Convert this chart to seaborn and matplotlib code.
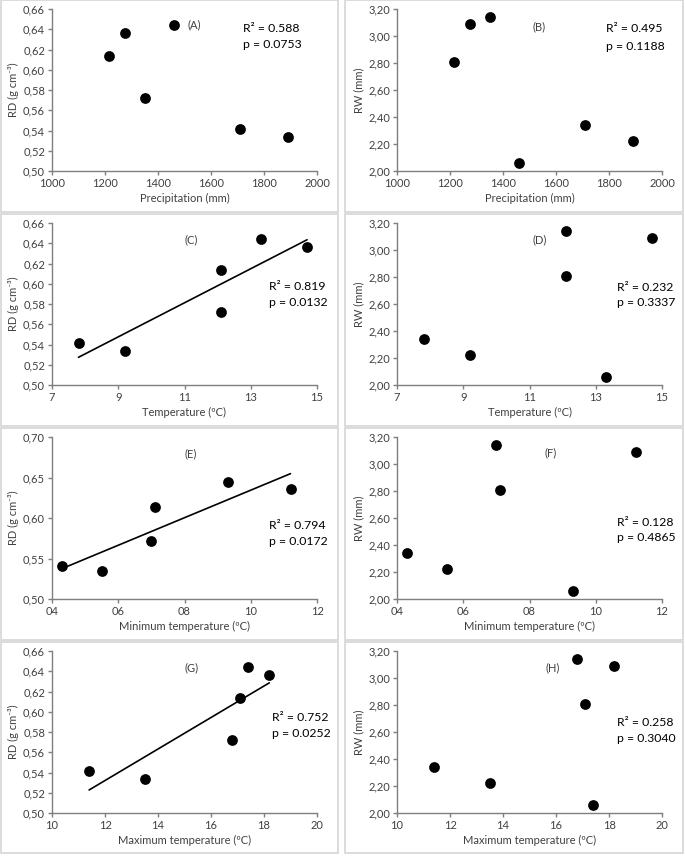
import matplotlib
matplotlib.use("Agg")
from matplotlib import pyplot as plt
from matplotlib.patches import Rectangle
from matplotlib.ticker import FuncFormatter
import seaborn as sns
import numpy as np
import pandas as pd

sns.set_style('white')
plt.rcParams['font.family'] = ['Lato', 'DejaVu Sans']

# six sites
precipitation = [1215, 1275, 1350, 1460, 1710, 1890]
temperature = [12.1, 14.7, 12.1, 13.3, 7.8, 9.2]
min_temperature = [7.1, 11.2, 7.0, 9.3, 4.3, 5.5]
max_temperature = [17.1, 18.2, 16.8, 17.4, 11.4, 13.5]
rd = [0.614, 0.636, 0.572, 0.644, 0.541, 0.534]
rw = [2.81, 3.09, 3.14, 2.06, 2.34, 2.22]

df = pd.DataFrame({'prec': precipitation, 'temp': temperature,
                   'tmin': min_temperature, 'tmax': max_temperature,
                   'rd': rd, 'rw': rw})

W, H = 685, 856
fig = plt.figure(figsize=(W / 100, H / 100), dpi=100)

# panel frames
col_box = [(1, 338), (345, 683)]
row_box = [(0, 212), (214, 426), (428, 640), (642, 853)]
for x0, x1 in col_box:
    for y0, y1 in row_box:
        fig.add_artist(Rectangle((x0 / W, 1 - y1 / H), (x1 - x0) / W, (y1 - y0) / H,
                                 transform=fig.transFigure, fill=False,
                                 edgecolor='#d9d9d9', linewidth=1.3))

col_x = [52, 397]
row_top = [9, 223, 437, 651]
aw, ah = 265, 162

rd_label = 'RD (g cm\u207b\u00b3)'
rw_label = 'RW (mm)'

panels = [
    # x col, y col, xlabel, ylabel, xlim, xstep, ylim, ystep, tag, fit, tag pos, stat pos, r2, p, xfmt, yfmt
    ('prec', 'rd', 'Precipitation (mm)', rd_label, (1000, 2000), 200, (0.50, 0.66), 0.02,
     '(A)', False, (0.51, 0.90), (0.72, 0.88, 0.78), '0.588', '0.0753', '{:.0f}', '{:.2f}'),
    ('prec', 'rw', 'Precipitation (mm)', rw_label, (1000, 2000), 200, (2.0, 3.2), 0.2,
     '(B)', False, (0.51, 0.89), (0.79, 0.88, 0.77), '0.495', '0.1188', '{:.0f}', '{:.2f}'),
    ('temp', 'rd', 'Temperature (ºC)', rd_label, (7, 15), 2, (0.50, 0.66), 0.02,
     '(C)', True, (0.50, 0.895), (0.82, 0.61, 0.51), '0.819', '0.0132', '{:.0f}', '{:.2f}'),
    ('temp', 'rw', 'Temperature (ºC)', rw_label, (7, 15), 2, (2.0, 3.2), 0.2,
     '(D)', False, (0.51, 0.895), (0.83, 0.60, 0.51), '0.232', '0.3337', '{:.0f}', '{:.2f}'),
    ('tmin', 'rd', 'Minimum temperature (ºC)', rd_label, (4, 12), 2, (0.50, 0.70), 0.05,
     '(E)', True, (0.50, 0.895), (0.82, 0.453, 0.354), '0.794', '0.0172', '{:02.0f}', '{:.2f}'),
    ('tmin', 'rw', 'Minimum temperature (ºC)', rw_label, (4, 12), 2, (2.0, 3.2), 0.2,
     '(F)', False, (0.555, 0.90), (0.83, 0.47, 0.38), '0.128', '0.4865', '{:02.0f}', '{:.2f}'),
    ('tmax', 'rd', 'Maximum temperature (ºC)', rd_label, (10, 20), 2, (0.50, 0.66), 0.02,
     '(G)', True, (0.50, 0.895), (0.83, 0.59, 0.49), '0.752', '0.0252', '{:.0f}', '{:.2f}'),
    ('tmax', 'rw', 'Maximum temperature (ºC)', rw_label, (10, 20), 2, (2.0, 3.2), 0.2,
     '(H)', False, (0.56, 0.895), (0.83, 0.56, 0.46), '0.258', '0.3040', '{:.0f}', '{:.2f}'),
]

axis_color = '#7f7f7f'
text_color = '#404040'

for i, (xc, yc, xl, yl, xlim, xstep, ylim, ystep, tag, fit, tpos, spos, r2, pv, xfmt, yfmt) in enumerate(panels):
    r, c = divmod(i, 2)
    ax = fig.add_axes([col_x[c] / W, 1 - (row_top[r] + ah) / H, aw / W, ah / H])
    sns.scatterplot(data=df, x=xc, y=yc, color='black', s=60, edgecolor='black',
                    linewidth=0, ax=ax, zorder=3, clip_on=False)
    if fit:
        sns.regplot(data=df, x=xc, y=yc, scatter=False, ci=None, truncate=True,
                    line_kws={'color': 'black', 'linewidth': 1.2}, ax=ax)
    ax.set_xlim(*xlim)
    ax.set_ylim(*ylim)
    ax.set_xticks(np.arange(xlim[0], xlim[1] + xstep / 2, xstep))
    ax.set_yticks(np.arange(ylim[0], ylim[1] + ystep / 2, ystep))
    ax.xaxis.set_major_formatter(FuncFormatter(lambda v, pos, f=xfmt: f.format(v)))
    ax.yaxis.set_major_formatter(FuncFormatter(lambda v, pos, f=yfmt: f.format(v).replace('.', ',')))
    for side in ['top', 'right']:
        ax.spines[side].set_visible(False)
    for side in ['left', 'bottom']:
        ax.spines[side].set_color(axis_color)
        ax.spines[side].set_linewidth(1.0)
    ax.tick_params(axis='both', direction='out', length=3, width=1.0, color=axis_color,
                   labelsize=8, labelcolor=text_color, pad=2, left=True, bottom=True)
    ax.set_xlabel(xl, fontsize=8, color=text_color, labelpad=3)
    ax.set_ylabel(yl, fontsize=8, color=text_color, labelpad=3)
    ax.text(tpos[0], tpos[1], tag, transform=ax.transAxes, fontsize=8,
            color=text_color, ha='left', va='center')
    ax.text(spos[0], spos[1], 'R\u00b2 = ' + r2, transform=ax.transAxes, fontsize=8.8,
            color='black', ha='left', va='center')
    ax.text(spos[0], spos[2], 'p = ' + pv, transform=ax.transAxes, fontsize=8.8,
            color='black', ha='left', va='center')

plt.savefig('out.png', dpi=100)
